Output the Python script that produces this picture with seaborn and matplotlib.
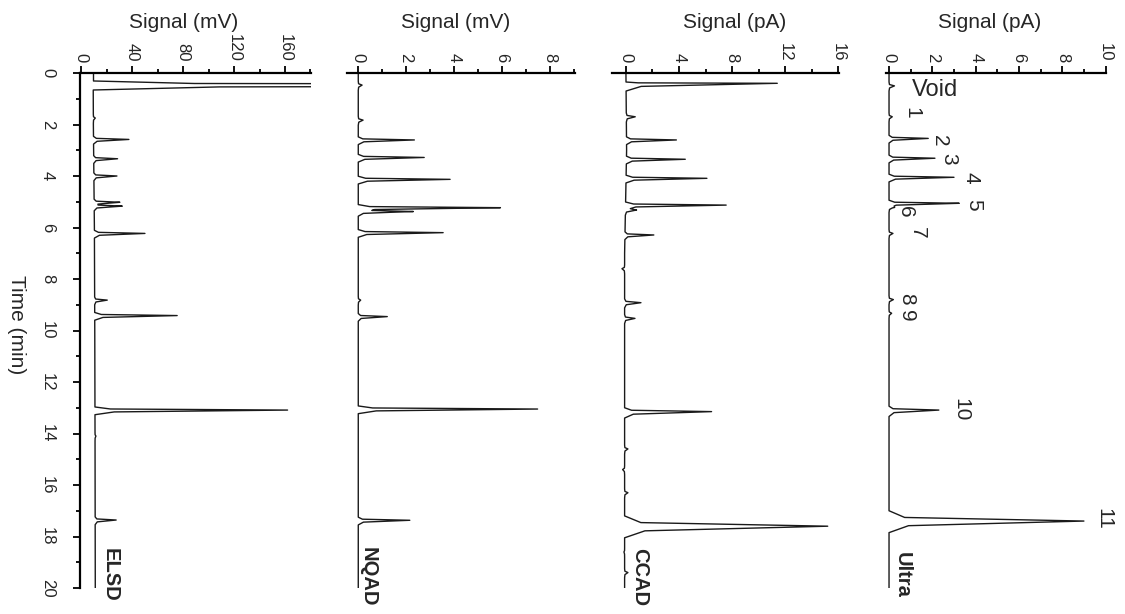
import numpy as np
import pandas as pd
import matplotlib
matplotlib.use("Agg")
import matplotlib.pyplot as plt
from matplotlib.ticker import MultipleLocator
import seaborn as sns

# ----------------------------------------------------------------- data
detectors = ["ELSD", "NQAD", "CCAD", "Ultra"]
signal_labels = ["Signal (mV)", "Signal (mV)", "Signal (pA)", "Signal (pA)"]

# baseline level of each trace (time in min, signal)
elsd_base_t = [0.0, 0.35, 0.7, 2.0, 6.0, 10.0, 14.0, 20.0]
elsd_base_v = [9.6, 9.6, 9.4, 9.5, 10.3, 10.6, 10.8, 11.0]
# peak apexes (time in min, signal); the ELSD void peak runs off scale
elsd_peak_t = [0.46, 1.75, 2.58, 3.33, 4.00, 5.02, 5.17, 6.23, 8.82, 9.42, 13.09, 14.10, 17.36]
elsd_peak_v = [1000, 11.0, 37.4, 28.5, 28.0, 30.3, 31.6, 50.0, 20.4, 75.3, 162.0, 11.5, 27.4]

nqad_base_t = [0.0, 20.0]
nqad_base_v = [0.02, 0.02]
nqad_peak_t = [0.47, 1.83, 2.60, 3.28, 4.13, 5.23, 5.38, 6.20, 8.82, 9.46, 13.05, 17.37]
nqad_peak_v = [0.18, 0.22, 2.36, 2.77, 3.85, 5.95, 2.15, 3.56, 0.12, 1.23, 7.50, 2.17]

ccad_base_t = [0.0, 3.0, 7.0, 13.0, 20.0]
ccad_base_v = [0.0, 0.05, -0.1, -0.1, -0.1]
ccad_peak_t = [0.40, 1.70, 2.60, 3.35, 4.09, 5.13, 5.32, 6.29, 7.60, 8.92, 9.53,
               13.15, 14.60, 15.40, 16.30, 17.60, 18.60, 19.40]
ccad_peak_v = [11.4, 0.70, 3.80, 4.47, 6.10, 7.55, 0.80, 2.10, -0.30, 1.13, 0.68,
               6.45, 0.15, -0.25, 0.15, 15.2, -0.15, 0.15]

ultra_base_t = [0.0, 20.0]
ultra_base_v = [0.0, 0.0]
ultra_peak_t = [0.50, 1.70, 2.54, 3.31, 4.05, 5.06, 5.22, 6.23, 8.80, 9.33, 13.09, 17.40]
ultra_peak_v = [0.25, 0.15, 1.81, 2.12, 3.00, 3.24, 0.20, 0.18, 0.20, 0.12, 2.30, 9.00]

ultra_labels = ["Void", "1", "2", "3", "4", "5", "6", "7", "8", "9", "10", "11"]

# ----------------------------------------------------------------- style / layout
N, B, W1, W2, V1, V2 = (0.12, 0.18), (0.15, 0.20), (0.15, 0.25), (0.40, 0.45), (0.15, 0.20), (0.05, 0.30)
elsd_w = [V1, B, N, N, N, N, N, N, N, N, N, B, N]
nqad_w = [B, B, N, N, N, N, N, N, B, N, N, N]
ccad_w = [V2, B, N, N, N, N, B, N, B, B, B, W1, B, B, B, W2, B, B]
ultra_w = [B, B, N, N, N, N, B, B, B, B, W1, W2]

label_t = [0.67, 1.53, 2.62, 3.35, 4.06, 5.13, 5.40, 6.22, 8.78, 9.43, 13.09, 17.30]
label_s = [1.05, 1.04, 2.35, 2.74, 3.80, 3.90, 0.78, 1.31, 0.80, 0.80, 3.30, 9.90]


def build_trace(base_t, base_v, pk_t, pk_v, widths):
    verts = set(base_t)
    shapes = []
    for t, a, (l, r) in zip(pk_t, pk_v, widths):
        st = [t - l, t - 0.35 * l, t, t + 0.4 * r, t + r]
        h = a - np.interp(t, base_t, base_v)
        sv = [0, 0.08 * h, h, 0.10 * h, 0]
        shapes.append((st, sv))
        verts.update(st)
    tt = np.array(sorted(v for v in verts if 0 <= v <= 20))
    yy = np.interp(tt, base_t, base_v)
    for st, sv in shapes:
        yy = yy + np.interp(tt, st, sv, left=0, right=0)
    return pd.DataFrame({"time": tt, "signal": yy})


traces = [
    build_trace(elsd_base_t, elsd_base_v, elsd_peak_t, elsd_peak_v, elsd_w),
    build_trace(nqad_base_t, nqad_base_v, nqad_peak_t, nqad_peak_v, nqad_w),
    build_trace(ccad_base_t, ccad_base_v, ccad_peak_t, ccad_peak_v, ccad_w),
    build_trace(ultra_base_t, ultra_base_v, ultra_peak_t, ultra_peak_v, ultra_w),
]

sns.set_theme(style="ticks")
plt.rcParams["font.family"] = ["Liberation Sans", "DejaVu Sans"]

FW, FH = 1125, 614
fig = plt.figure(figsize=(FW / 100, FH / 100), dpi=100)

boxes = [(80, 231), (347, 228), (612, 227), (886, 220)]
top_px, bot_px = 73, 588
xlims = [(-1.0, 180.4), (-0.45, 9.06), (-1.05, 16.05), (-0.14, 10.02)]
majors = [40, 2, 4, 2]
minors = [20, 1, 2, 1]
signal_label_x = [184, 456, 735, 990]
name_pos = [(14.9, 18.45), (0.03, 18.40), (0.3, 18.45), (0.18, 18.60)]

for i, (name, df) in enumerate(zip(detectors, traces)):
    x0, w = boxes[i]
    ax = fig.add_axes([x0 / FW, 1 - bot_px / FH, w / FW, (bot_px - top_px) / FH])
    sns.lineplot(data=df, x="signal", y="time", orient="y", estimator=None,
                 sort=False, color="#1a1a1a", lw=1.0, ax=ax)
    ax.set_xlim(*xlims[i])
    ax.set_ylim(20, 0)
    ax.set_xlabel("")
    ax.set_ylabel("")
    ax.xaxis.set_major_locator(MultipleLocator(majors[i]))
    ax.xaxis.set_minor_locator(MultipleLocator(minors[i]))
    ax.xaxis.tick_top()
    ax.tick_params(axis="x", which="both", top=True, bottom=False, labeltop=True,
                   labelbottom=False, direction="out", width=1.3, color="black")
    ax.tick_params(axis="x", which="major", length=5, labelsize=12, pad=3,
                   labelrotation=-90)
    ax.tick_params(axis="x", which="minor", length=3)
    for lab in ax.get_xticklabels():
        lab.set_rotation(-90)
    for s in ["right", "bottom"]:
        ax.spines[s].set_visible(False)
    ax.spines["top"].set_linewidth(1.6)
    ax.spines["top"].set_color("black")
    if i == 0:
        ax.spines["left"].set_linewidth(1.6)
        ax.spines["left"].set_color("black")
        ax.yaxis.set_major_locator(MultipleLocator(2))
        ax.yaxis.set_minor_locator(MultipleLocator(1))
        ax.tick_params(axis="y", which="both", left=True, direction="out",
                       width=1.3, color="black")
        ax.tick_params(axis="y", which="major", length=5, labelsize=12, pad=13)
        ax.tick_params(axis="y", which="minor", length=3)
        for lab in ax.get_yticklabels():
            lab.set_rotation(-90)
            lab.set_va("center")
    else:
        ax.spines["left"].set_visible(False)
        ax.tick_params(axis="y", which="both", left=False, labelleft=False)
    ax.set_facecolor("white")

    fig.text(signal_label_x[i] / FW, 1 - 22 / FH, signal_labels[i],
             ha="center", va="center", fontsize=15)
    ax.text(name_pos[i][0], name_pos[i][1], name, rotation=-90, ha="left", va="top",
            fontsize=14.5, fontweight="bold", clip_on=False)

    if name == "Ultra":
        for lab, t, s in zip(ultra_labels, label_t, label_s):
            if lab == "Void":
                ax.text(s, t, lab, ha="left", va="center", fontsize=17, clip_on=False)
            else:
                ax.text(s, t, lab, ha="center", va="center", rotation=-90,
                        fontsize=15, clip_on=False)

fig.text(16 / FW, 1 - 325 / FH, "Time (min)", rotation=-90, ha="center",
         va="center", fontsize=15)

fig.savefig("out.png", dpi=100, facecolor="white")
